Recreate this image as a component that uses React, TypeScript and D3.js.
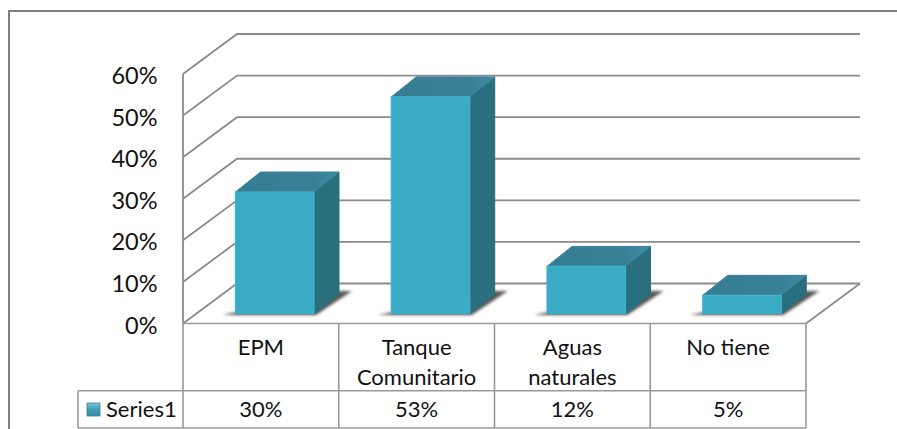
import * as d3 from "d3";

const categories = [["EPM"], ["Tanque", "Comunitario"], ["Aguas", "naturales"], ["No tiene"]];
const categoryKeys = ["EPM", "Tanque Comunitario", "Aguas naturales", "No tiene"];
const seriesName = "Series1";
const seriesValues = [30, 53, 12, 5];
const yTicks = [0, 10, 20, 30, 40, 50, 60];

const WIDTH = 897;
const HEIGHT = 429;
const FONT = "Lato, 'Open Sans', sans-serif";
const GRID = "#8b8b8b";
const TABLE = "#999999";

// plot geometry
const left = 183;
const right = 806;
const floorY = 323.5;
const topY = 74;
const depthX = 54;
const depthY = 40;
const barBase = 314;
const barDepthX = 25;
const barDepthY = 20;
const tableMid = 390.7;
const tableBottom = 428;
const tableLeft = 78;

const y = d3.scaleLinear().domain([0, 60]).range([floorY, topY]);
// bars sit a little forward of the back wall, so they get their own scale
const barY = d3.scaleLinear().domain([0, 60]).range([316, 68]);
const x = d3.scaleBand<string>().domain(categoryKeys).range([left, right]);
const barW = x.bandwidth() * 0.504;
const barOffset = x.bandwidth() * 0.337;

const line = d3.line();

const poly = (pts: [number, number][]) => line(pts) + "Z";

export default function App() {
  return (
    <svg
      width={WIDTH}
      height={HEIGHT}
      style={{ position: "fixed", left: 0, top: 0, background: "#fff" }}
      fontFamily={FONT}
    >
      <defs>
        <filter id="shadowBlur" x="-20%" y="-50%" width="140%" height="200%">
          <feGaussianBlur stdDeviation="1.8" />
        </filter>
        <linearGradient id="keyFill" x1="0" y1="0" x2="0" y2="1">
          <stop offset="0" stopColor="#7cc4d8" />
          <stop offset="0.5" stopColor="#3f9db5" />
          <stop offset="1" stopColor="#2f8ea6" />
        </linearGradient>
        <linearGradient id="topFill" x1="0" y1="0" x2="1" y2="0">
          <stop offset="0" stopColor="#367d93" />
          <stop offset="0.75" stopColor="#397f96" />
          <stop offset="1" stopColor="#3e8ea5" />
        </linearGradient>
      </defs>

      {/* outer chart frame */}
      <path d="M9,429V11H897" fill="none" stroke="#808080" strokeWidth={2} />

      {/* back wall gridlines and side wall */}
      {yTicks.map((t) => (
        <path
          key={t}
          d={line([
            [left, y(t)],
            [left + depthX, y(t) - depthY],
            [right + depthX, y(t) - depthY],
          ]) || ""}
          fill="none"
          stroke={GRID}
          strokeWidth={1.8}
        />
      ))}
      <path
        d={line([
          [left, y(0)],
          [left, y(60)],
        ]) || ""}
        stroke={GRID}
        strokeWidth={1.8}
      />
      <path
        d={line([
          [right, y(0)],
          [right + depthX, y(0) - depthY],
        ]) || ""}
        stroke={GRID}
        strokeWidth={1.8}
      />

      {/* tick labels */}
      {yTicks.map((t) => (
        <text key={t} x={157.5} y={y(t) + 10} textAnchor="end" fontSize={23.5} fill="#111">
          {t}%
        </text>
      ))}

      {/* bars */}
      {categoryKeys.map((c, i) => {
        const x0 = (x(c) as number) + barOffset;
        const x1 = x0 + barW;
        const top = barY(seriesValues[i]);
        return (
          <g key={c}>
            <path
              d={poly([
                [x0 - 13, barBase + 1],
                [x1 + 2, barBase + 1],
                [x1 + barDepthX + 13, barBase - barDepthY - 3],
                [x1 + barDepthX, barBase - barDepthY - 3],
              ])}
              fill="#444"
              opacity={0.9}
              filter="url(#shadowBlur)"
            />
            <path
              d={poly([
                [x1, top],
                [x1 + barDepthX, top - barDepthY],
                [x1 + barDepthX, barBase - barDepthY],
                [x1, barBase],
              ])}
              fill="#2a6f7e"
              stroke="#2a6f7e"
              strokeWidth={1}
              strokeLinejoin="round"
            />
            <path
              d={poly([
                [x0, top],
                [x0 + barDepthX, top - barDepthY],
                [x1 + barDepthX, top - barDepthY],
                [x1, top],
              ])}
              fill="url(#topFill)"
              stroke="#3a8297"
              strokeWidth={1}
              strokeLinejoin="round"
            />
            <rect x={x0} y={top} width={barW} height={barBase - top} fill="#3aabc5" />
            <path
              d={line([
                [x0, barBase],
                [x0, top],
                [x1, top],
                [x1, barBase],
              ]) || ""}
              fill="none"
              stroke="#43b4cd"
              strokeWidth={1.2}
            />
            <path d={`M${x0},${barBase + 0.5}H${x1}`} stroke="#7d8c92" strokeWidth={1} />
          </g>
        );
      })}

      {/* data table */}
      <g stroke={TABLE} strokeWidth={1.6} fill="none">
        <path d={`M${left},${floorY}H${right}`} />
        <path d={`M${tableLeft},${tableMid}H${right}`} />
        <path d={`M${tableLeft},${tableBottom}H${right}`} />
        <path d={`M${tableLeft},${tableMid}V${tableBottom}`} />
        {categoryKeys.map((c) => (
          <path key={c} d={`M${x(c)},${floorY}V${tableBottom}`} />
        ))}
        <path d={`M${right},${floorY}V${tableBottom}`} />
      </g>

      {categories.map((lines, i) => {
        const cx = (x(categoryKeys[i]) as number) + x.bandwidth() / 2;
        return lines.map((l, j) => (
          <text key={l} x={cx} y={355 + j * 30} textAnchor="middle" fontSize={22} fill="#111">
            {l}
          </text>
        ));
      })}
      {seriesValues.map((v, i) => (
        <text
          key={categoryKeys[i]}
          x={(x(categoryKeys[i]) as number) + x.bandwidth() / 2}
          y={417}
          textAnchor="middle"
          fontSize={22}
          fill="#111"
        >
          {v}%
        </text>
      ))}

      {/* legend key */}
      <rect x={87} y={403} width={13} height={13} fill="url(#keyFill)" stroke="#3b7f93" strokeWidth={0.8} />
      <text x={106} y={417} fontSize={22} fill="#111">
        {seriesName}
      </text>
    </svg>
  );
}
